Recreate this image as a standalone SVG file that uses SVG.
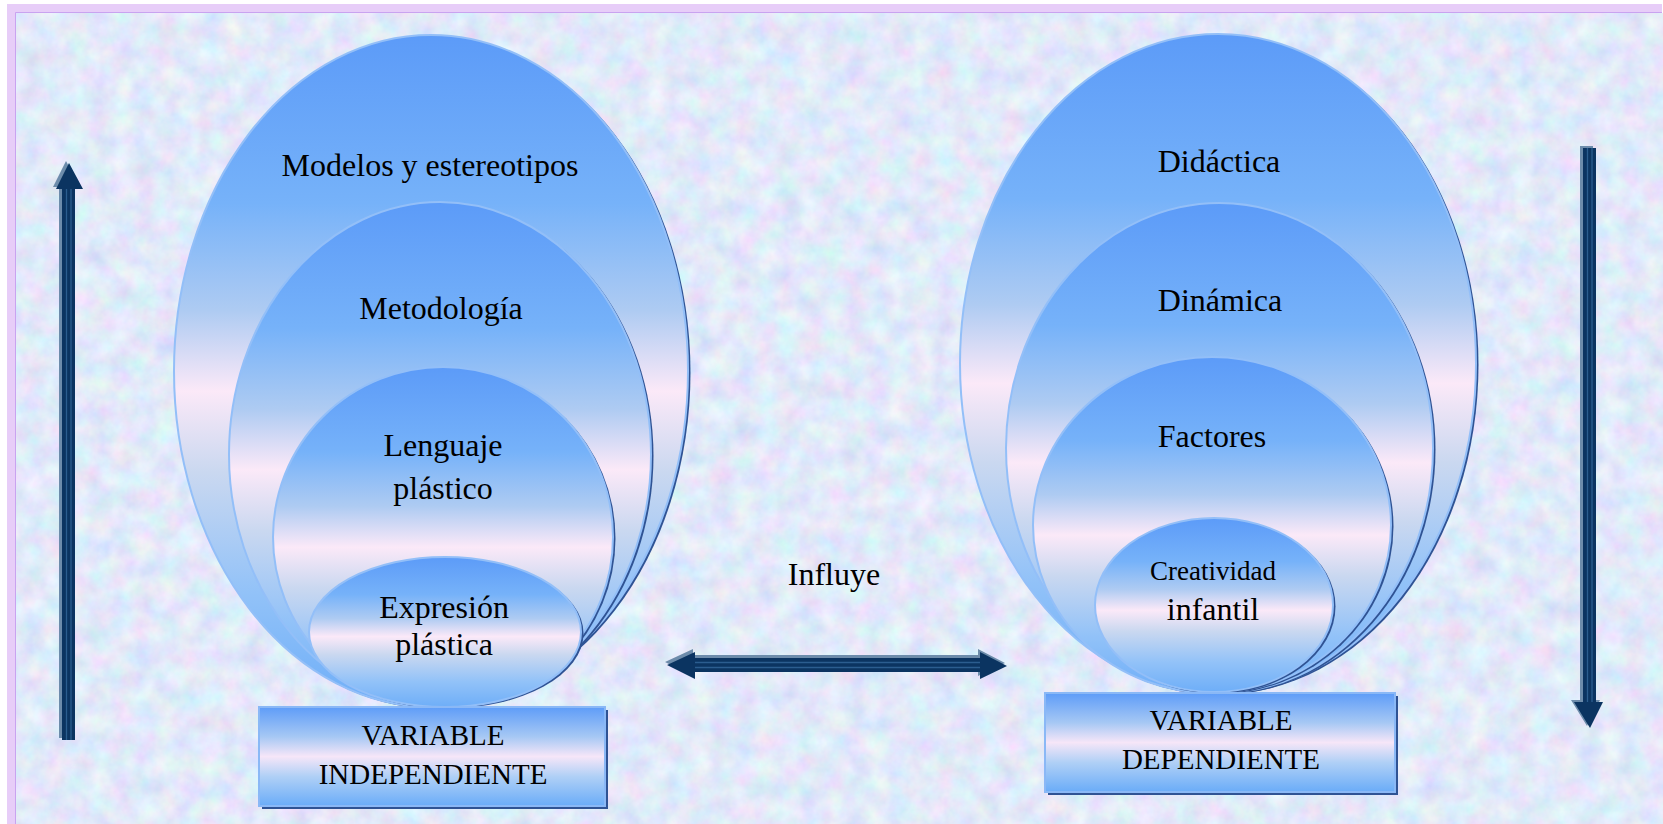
<svg xmlns="http://www.w3.org/2000/svg" width="1663" height="824" viewBox="0 0 1663 824">
<style>
.lbl{font-family:"Liberation Serif","Times New Roman",serif;font-size:32px;fill:#000;text-anchor:middle}
.sm{font-size:27px}
.bx{font-size:29px}
.ell{fill:url(#eg);stroke:#93bff8;stroke-width:2}
.sh{fill:#2f5394}
.box{fill:url(#bg);stroke:#8ab8f6;stroke-width:2}
.arr{fill:#0b3461}
.arrsh{fill:#6d8cab}
.str{stroke:#2b5d8f;stroke-width:1.3;fill:none}
</style>
<defs>
<filter id="tex" x="0" y="0" width="100%" height="100%" filterUnits="objectBoundingBox">
<feTurbulence type="fractalNoise" baseFrequency="0.045" numOctaves="4" seed="7"/>
<feColorMatrix type="matrix" values="0.42 0 0 0 0.55  0 0.36 0 0 0.64  0 0 0.2 0 0.85  0 0 0 0 1"/>
</filter>
<linearGradient id="eg" x1="0" y1="0" x2="0" y2="1">
<stop offset="0" stop-color="#5c9bf8"/>
<stop offset="0.25" stop-color="#76b2f9"/>
<stop offset="0.41" stop-color="#aecbf2"/>
<stop offset="0.53" stop-color="#fbe9f8"/>
<stop offset="0.65" stop-color="#cad8f0"/>
<stop offset="0.83" stop-color="#92c2f8"/>
<stop offset="1" stop-color="#6eaef8"/>
</linearGradient>
<linearGradient id="bg" x1="0" y1="0" x2="0" y2="1">
<stop offset="0" stop-color="#5e9cf8"/>
<stop offset="0.3" stop-color="#a6c8f4"/>
<stop offset="0.5" stop-color="#f6e6f8"/>
<stop offset="0.7" stop-color="#b0d0f6"/>
<stop offset="1" stop-color="#6aacf8"/>
</linearGradient>
</defs>

<g id="background">
<rect x="0" y="0" width="1663" height="824" fill="#ffffff"/>
<rect x="7" y="4" width="1655" height="820" fill="#e7cdf8"/>
<rect x="15" y="13" width="1648" height="811" fill="#c8d6f5"/>
<rect x="15" y="13" width="1648" height="811" filter="url(#tex)"/>
<path d="M15.5 824 V12.5 H1662" fill="none" stroke="#c9a3f0" stroke-width="1"/>
</g>

<g id="left-modelos">
<ellipse class="sh" cx="433.5" cy="372.5" rx="257" ry="336"/>
<ellipse class="ell" cx="431" cy="371" rx="257" ry="336"/>
<text class="lbl" x="430" y="176">Modelos y estereotipos</text>
</g>
<g id="left-metodologia">
<ellipse class="sh" cx="442.5" cy="456" rx="211" ry="252.5"/>
<ellipse class="ell" cx="440" cy="454.5" rx="211" ry="252.5"/>
<text class="lbl" x="441" y="319">Metodología</text>
</g>
<g id="left-lenguaje">
<ellipse class="sh" cx="445.5" cy="538.5" rx="170" ry="170"/>
<ellipse class="ell" cx="443" cy="537" rx="170" ry="170"/>
<text class="lbl" x="443" y="456">Lenguaje</text>
<text class="lbl" x="443" y="499">plástico</text>
</g>
<g id="left-expresion">
<ellipse class="sh" cx="447.5" cy="633.5" rx="136" ry="75"/>
<ellipse class="ell" cx="445" cy="632" rx="136" ry="75"/>
<text class="lbl" x="444" y="618">Expresión</text>
<text class="lbl" x="444" y="655">plástica</text>
</g>
<g id="var-independiente">
<rect class="sh" x="262" y="710" width="346" height="99"/>
<rect class="box" x="259" y="707" width="346" height="99"/>
<text class="lbl bx" x="433" y="745">VARIABLE</text>
<text class="lbl bx" x="433" y="784">INDEPENDIENTE</text>
</g>

<g id="right-didactica">
<ellipse class="sh" cx="1220.5" cy="365" rx="258" ry="329.5"/>
<ellipse class="ell" cx="1218" cy="363.5" rx="258" ry="329.5"/>
<text class="lbl" x="1219" y="172">Didáctica</text>
</g>
<g id="right-dinamica">
<ellipse class="sh" cx="1222" cy="449.5" rx="213.5" ry="245"/>
<ellipse class="ell" cx="1219.5" cy="448" rx="213.5" ry="245"/>
<text class="lbl" x="1220" y="311">Dinámica</text>
</g>
<g id="right-factores">
<ellipse class="sh" cx="1214.5" cy="526.5" rx="179" ry="168"/>
<ellipse class="ell" cx="1212" cy="525" rx="179" ry="168"/>
<text class="lbl" x="1212" y="447">Factores</text>
</g>
<g id="right-creatividad">
<ellipse class="sh" cx="1216.5" cy="606.5" rx="119" ry="87"/>
<ellipse class="ell" cx="1214" cy="605" rx="119" ry="87"/>
<text class="lbl sm" x="1213" y="580">Creatividad</text>
<text class="lbl" x="1213" y="620">infantil</text>
</g>
<g id="var-dependiente">
<rect class="sh" x="1048" y="696" width="350" height="99"/>
<rect class="box" x="1045" y="693" width="350" height="99"/>
<text class="lbl bx" x="1221" y="730">VARIABLE</text>
<text class="lbl bx" x="1221" y="769">DEPENDIENTE</text>
</g>

<g id="influye-label">
<text class="lbl" x="834" y="585">Influye</text>
</g>

<g id="connectors">
<g id="arrow-influye">
<polygon class="arrsh" points="665,662 693,649 693,655 978,655 978,649 1005,663 978,676 978,669 693,669 693,676"/>
<polygon class="arr" points="667,665 695,652 695,658 980,658 980,652 1007,666 980,679 980,672 695,672 695,679"/>
<path class="str" d="M695 662.5 H980 M695 667.5 H980"/>
</g>
<g id="arrow-up">
<polygon class="arrsh" points="66,161 53,187 59,187 59,738 72,738 72,187 80,187"/>
<polygon class="arr" points="69,163 56,189 62,189 62,740 75,740 75,189 83,189"/>
<path class="str" d="M66.5 189 V740 M71 189 V740"/>
</g>
<g id="arrow-down">
<polygon class="arrsh" points="1580,146 1593,146 1593,700 1600,700 1587,726 1571,700 1580,700"/>
<polygon class="arr" points="1583,148 1596,148 1596,702 1603,702 1590,728 1574,702 1583,702"/>
<path class="str" d="M1587.5 148 V702 M1592 148 V702"/>
</g>
</g>
</svg>
